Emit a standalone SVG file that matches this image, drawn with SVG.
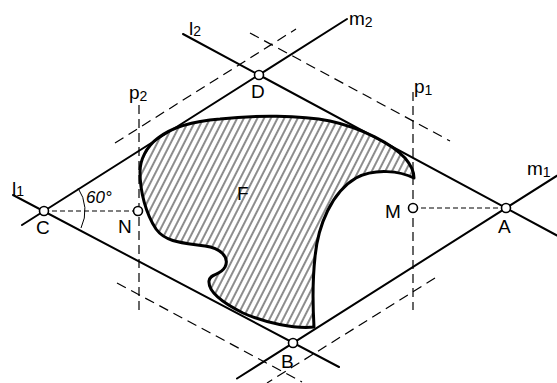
<svg xmlns="http://www.w3.org/2000/svg" width="557" height="383" viewBox="0 0 557 383">
<style>
.solid{stroke:#000;stroke-width:2;fill:none;stroke-linecap:round}
.dash{stroke:#000;stroke-width:1.2;fill:none;stroke-dasharray:10 6}
.vdash{stroke:#000;stroke-width:1.2;fill:none;stroke-dasharray:9 5}
.hdash{stroke:#000;stroke-width:1.2;fill:none;stroke-dasharray:5 3}
.pt{fill:#fff;stroke:#000;stroke-width:1.6}
.lbl{font-family:"Liberation Sans",Arial,sans-serif;font-size:19px;fill:#000}
.sub{font-size:14px}
</style>
<defs>
<pattern id="hatch" width="6" height="12" patternUnits="userSpaceOnUse" patternTransform="rotate(27)">
<line x1="1" y1="0" x2="1" y2="12" stroke="#000" stroke-width="0.9"/>
</pattern>
<clipPath id="fclip"><path id="fpath" d="M140,172 C140,160 146,147 158,138 C172,127 195,121 220,119 C255,115 300,115 330,121 C362,128 392,144 405,158 C411,165 414,171 414,178 C400,171 375,168 356,178 C332,192 318,225 315,257 C312,285 313,310 314,327 C295,329 265,323 243,313 C225,304 208,292 209,281 C210,273 220,276 225,267 C230,257 220,248 205,246 C185,243 166,243 156,229 C146,214 140,192 140,172 Z"/></clipPath>
</defs>
<rect width="557" height="383" fill="#fff"/>
<g id="connectors">
<line class="solid" x1="13" y1="195" x2="339" y2="367"/>
<line class="solid" x1="22" y1="225" x2="347" y2="19"/>
<line class="solid" x1="183" y1="34" x2="557" y2="235.5"/>
<line class="solid" x1="237" y1="378.5" x2="557" y2="175.7"/>
<line class="dash" x1="115" y1="143" x2="296" y2="29"/>
<line class="dash" x1="250" y1="33" x2="450" y2="141"/>
<line class="dash" x1="117" y1="283" x2="302" y2="382"/>
<line class="dash" x1="435" y1="278" x2="267" y2="383"/>
<line class="vdash" x1="139" y1="105" x2="139" y2="314"/>
<line class="vdash" x1="413" y1="92" x2="413" y2="310"/>
<line class="hdash" x1="44" y1="211" x2="138" y2="211"/>
<line class="hdash" x1="413" y1="208" x2="506" y2="208"/>
<path d="M78,188 A40,40 0 0 1 81,228" stroke="#000" stroke-width="1" fill="none"/>
</g>
<g id="F">
<rect x="130" y="105" width="300" height="235" fill="url(#hatch)" clip-path="url(#fclip)"/>
<use href="#fpath" fill="none" stroke="#000" stroke-width="3" stroke-linejoin="round"/>
</g>
<g id="C"><circle class="pt" cx="44" cy="211" r="4.5"/><text class="lbl" x="36" y="234">C</text></g>
<g id="D"><circle class="pt" cx="259" cy="75" r="4.5"/><text class="lbl" x="251" y="98">D</text></g>
<g id="A"><circle class="pt" cx="506" cy="208" r="4.5"/><text class="lbl" x="498" y="233">A</text></g>
<g id="B"><circle class="pt" cx="293" cy="343" r="4.5"/><text class="lbl" x="281" y="368">B</text></g>
<g id="N"><circle class="pt" cx="138" cy="211" r="4.5"/><text class="lbl" x="118" y="233">N</text></g>
<g id="M"><circle class="pt" cx="413" cy="208" r="4.5"/><text class="lbl" x="385" y="218">M</text></g>
<g id="labels">
<text class="lbl" x="237" y="200">F</text>
<text class="lbl" x="86" y="203" style="font-size:17px;font-style:italic">60°</text>
<text class="lbl" x="12" y="195">l<tspan class="sub" dy="1">1</tspan></text>
<text class="lbl" x="189" y="35">l<tspan class="sub" dy="1">2</tspan></text>
<text class="lbl" x="349" y="25">m<tspan class="sub" dy="2">2</tspan></text>
<text class="lbl" x="527" y="175">m<tspan class="sub" dy="2">1</tspan></text>
<text class="lbl" x="129" y="99">p<tspan class="sub" dy="2">2</tspan></text>
<text class="lbl" x="414" y="93">p<tspan class="sub" dy="2">1</tspan></text>
</g>
</svg>
